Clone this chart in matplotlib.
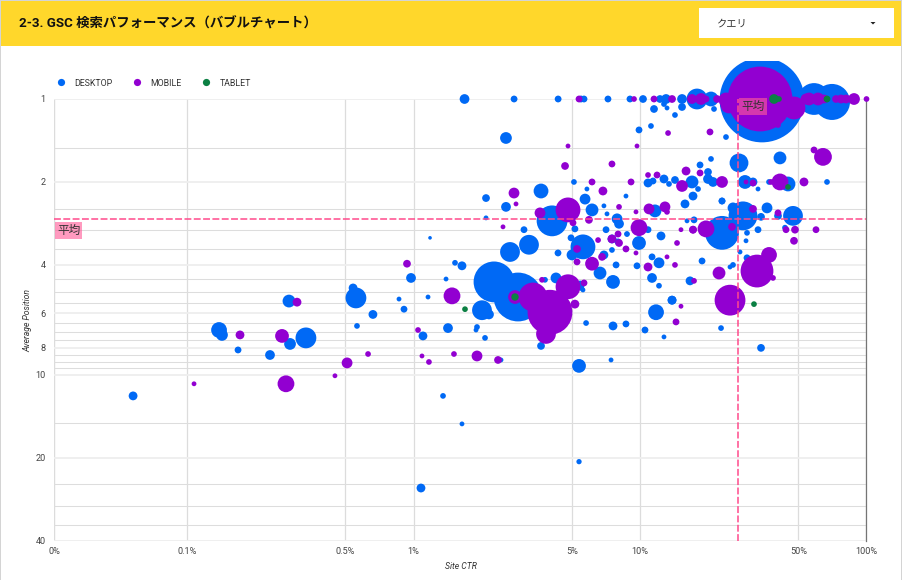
import numpy as np
import matplotlib
matplotlib.use("Agg")
import matplotlib.pyplot as plt
from matplotlib.lines import Line2D
from matplotlib.patches import Rectangle, Polygon
from matplotlib.ticker import FixedLocator, NullFormatter

plt.rcParams['font.family'] = ['Roboto', 'Noto Sans CJK JP', 'DejaVu Sans']

title = "2-3. GSC 検索パフォーマンス（バブルチャート）"
dropdown = "クエリ"
series_names = ["DESKTOP", "MOBILE", "TABLET"]
x_label = "Site CTR"
y_label = "Average Position"
x_ticks = [0.02587, 0.1, 0.5, 1, 5, 10, 50, 100]
x_tick_labels = ["0%", "0.1%", "0.5%", "1%", "5%", "10%", "50%", "100%"]
y_major = [1, 2, 4, 6, 8, 10, 20, 40]
y_minor = [1.5, 2.5, 3, 3.5, 4.5, 5, 5.5, 6.5, 7, 7.5, 8.5, 9, 9.5, 15, 25, 30, 35]
avg_ctr = 27.0
avg_pos = 2.736

# (CTR %, average position, impressions index)
desktop = [
    (1.68,1,20),(2.78,1,9),(4.35,1,9),(5.49,1,9),(5.66,1,9),(7.22,1,9),(9.03,1,9),(10.31,1,12),
    (12.25,1,12),(13.03,1,20),(15.33,1,20),(17.85,1,100),(20.58,1,49),(34.57,1.008,1764),
    (58.65,1,240),(70.42,1.025,310),
    (11.53,1.087,12),(12.76,1.043,6),(13.16,1.078,4),(14.27,1.143,6),(15.33,1.069,12),(21.22,1.087,6),
    (11.18,1.253,6),(9.90,1.295,9),(23.97,1.374,6),(2.56,1.385,30),
    (27.36,1.706,81),(41.5,1.636,36),(20.58,1.65,6),(18.41,1.735,9),(19.96,1.84,12),(19.96,1.951,20),
    (21.01,2.0,20),(16.97,2.0,36),(14.27,1.967,12),(13.43,2.034,6),(12.76,1.951,16),(11.41,1.984,9),
    (10.85,2.017,16),(18.04,2.121,6),(17.14,2.25,16),(15.8,2.403,16),(23.02,2.345,9),(29.08,2.0,42),
    (31.54,2.0,16),(33.19,2.121,4),(37.12,2.0,6),(45.02,2.034,49),(66.93,2.0,6),(5.11,2.0,6),
    (5.83,2.121,4),(8.67,2.25,4),
    (3.656,2.157,49),(2.09,2.288,12),(2.561,2.463,20),(5.72,2.308,25),(6.14,2.526,36),(6.93,2.442,4),
    (7.15,2.611,4),(7.92,2.722,25),(8.08,2.837,20),(5.16,2.96,9),(7.08,2.98,9),(11.65,2.547,36),
    (10.85,2.98,9),(12.38,3.14,16),(8.76,3.09,4),(16.13,2.768,4),(17.32,2.745,9),(4.09,2.768,225),
    (3.075,2.98,9),(2.09,2.7,4),
    (23.02,3.06,272),(28.49,2.655,196),(25.74,2.484,25),(36.37,2.484,25),(34.22,2.677,12),(33.19,2.98,9),
    (47.37,2.655,90),(40.67,2.655,12),(43.67,2.93,6),(29.68,3.06,6),(29.38,3.27,4),(23.02,2.345,9),
    (18.79,3.87,9),(27.64,3.59,4),(25.74,4.0,6),(24.97,4.07,4),(29.68,3.77,9),(16.63,4.57,16),
    (5.6,3.44,144),(4.96,3.19,9),(5.01,3.68,25),(6.93,3.68,16),(7.52,3.22,16),(8.0,3.3,9),
    (7.52,3.53,6),(8.76,3.09,6),(9.9,3.33,42),(11.3,3.74,9),(12.13,3.93,25),(9.7,4.03,9),
    (7.84,4.0,9),(11.3,4.46,20),(12.13,4.76,6),(13.85,5.37,16),(11.77,5.94,56),(6.66,4.28,36),
    (7.6,4.61,42),(5.44,4.69,9),(5.55,4.89,4),(5.49,4.76,9),(5.6,4.93,4),
    (4.257,4.46,25),(3.807,4.53,6),(3.235,3.38,90),(2.667,3.59,90),(4.345,3.62,9),
    (2.267,4.61,400),(2.894,5.23,576),(1.637,4.03,16),(1.525,3.93,6),(2.006,5.84,90),(2.154,6.05,20),
    (1.42,6.78,20),(1.907,6.72,6),(1.888,6.89,4),(2.069,7.36,6),(3.656,7.87,12),(5.38,9.3,42),
    (7.45,8.85,4),(2.434,8.85,4),(1.637,15.1,4),(5.38,20.7,5),(7.6,6.66,16),(5.78,6.5,6),
    (8.67,6.55,9),(10.52,6.89,9),(12.76,7.3,4),(13.85,5.37,16),(22.79,6.78,6),(34.22,8.0,12),
    (0.0578,11.95,16),(0.1385,6.89,56),(0.1427,7.18,30),(0.168,8.14,9),(0.2325,8.49,20),(0.282,5.41,36),
    (0.285,7.74,30),(0.335,7.36,100),(0.557,5.27,100),(0.541,4.85,16),(0.662,6.05,16),(0.563,6.66,6),
    (0.863,5.32,4),(0.908,5.79,9),(0.975,4.46,20),(1.159,5.23,4),(1.392,4.5,4),(1.101,7.24,16),
    (1.35,11.95,6),(1.079,25.8,16),(1.183,3.19,2),
]

mobile = [
    (5.38,1,9),(9.41,1,6),(11.53,1,9),(13.85,1,12),(16.97,1,20),(18.6,1,30),(19.56,1,9),(21.88,1,12),
    (33.87,1.0,1024),(47.85,1.078,121),(24.71,1.051,64),(23.97,1.008,49),(40.67,1.243,6),
    (54.06,1,25),(55.77,1,36),(61.08,1,36),(64.9,1,16),(73.34,1,12),(77.18,1,16),(81.2,1,16),
    (88.09,1,30),(100,1,6),
    (13.3,1.329,6),(20.37,1.317,9),(4.81,1.481,4),(9.7,1.481,4),(7.52,1.721,9),(4.667,1.75,12),
    (64.25,1.622,72),(58.65,1.531,9),(41.5,2.0,64),(52.97,2.0,16),(29.38,2.0,4),(31.54,2.017,9),
    (37.88,2.0,6),(23.02,2.0,30),(15.33,2.068,30),(15.97,1.825,16),(18.41,1.855,9),(11.89,1.887,9),
    (10.85,1.887,6),(9.13,2.0,9),(6.14,2.0,9),(6.86,2.157,16),(2.778,2.194,25),(2.835,2.403,4),
    (4.81,2.526,144),(3.618,2.59,25),(5.95,2.745,12),(5.06,2.813,9),(2.484,2.91,4),(8.08,2.463,6),
    (9.6,2.568,4),(10.96,2.505,25),(12.89,2.463,25),(13.16,2.568,6),(9.9,2.93,64),(15.17,2.98,4),
    (17.14,2.98,12),(19.56,2.96,64),(25.48,2.91,12),(31.54,2.505,12),(40.67,2.59,9),
    (17.14,2.98,12),(44.12,2.98,9),(48.34,2.98,12),(59.84,2.98,9),(47.85,3.27,12),
    (37.12,3.68,56),(32.85,4.21,256),(38.66,4.46,6),(22.33,4.28,36),(24.97,5.37,225),(17.32,4.57,6),
    (5.27,3.5,12),(5.27,3.9,9),(6.8,3.74,12),(6.53,3.25,6),(7.52,3.22,16),(8.0,3.09,9),(8.08,3.33,12),
    (8.67,3.5,9),(9.6,3.62,4),(14.57,3.33,6),(13.16,3.74,4),(14.27,4.0,6),(10.85,4.07,16),(6.14,3.96,42),
    (5.66,4.65,9),(4.81,4.8,144),(5.16,5.55,16),(3.37,5.23,196),(4.005,5.94,484),(3.846,7.12,90),
    (2.806,5.23,42),(3.693,4.53,6),(1.479,5.18,64),(1.509,8.42,6),(1.907,8.56,25),(2.361,8.85,12),
    (15.17,5.65,4),(14.42,6.44,9),
    (0.1074,10.8,4),(0.1714,7.18,16),(0.2627,7.24,42),(0.306,5.46,16),(0.2735,10.8,64),(0.45,10.1,4),
    (0.509,9.07,25),(0.63,8.42,6),(0.936,3.96,12),(1.047,6.89,6),(1.09,8.56,4),(1.17,9.0,6),
]

tablet = [
    (39.05,1,20),(41.08,1,6),(66.93,1,9),(45.02,2.085,6),(31.86,5.55,6),(1.688,5.79,6),(2.806,5.23,11),
]


def unzip(rows):
    a = np.array(rows, dtype=float)
    return a[:, 0], a[:, 1], a[:, 2]


fig = plt.figure(figsize=(9.02, 5.80), dpi=100, facecolor="white")
W, H = 902, 580
ax = fig.add_axes([54/W, (H-540.5)/H, (866.5-54)/W, (540.5-99)/H], zorder=2)
ax.patch.set_alpha(0)

# page furniture
fig.patches.append(Rectangle((1/W, (H-46)/H), 900/W, 45/H, transform=fig.transFigure, facecolor="#ffd72b", edgecolor="none", zorder=0))
fig.patches.append(Rectangle((699/W, (H-38)/H), 195/W, 30/H, transform=fig.transFigure, facecolor="white", edgecolor="none", zorder=1))
fig.patches.append(Polygon([(870.5/W, (H-22)/H), (875.5/W, (H-22)/H), (873/W, (H-24.5)/H)], transform=fig.transFigure, facecolor="#222222", edgecolor="none", zorder=1))
for r in [(0, 0, 1, H), (901, 0, 1, H), (0, H-1, W, 1)]:
    fig.patches.append(Rectangle((r[0]/W, r[1]/H), r[2]/W, r[3]/H, transform=fig.transFigure, facecolor="#d4d4d4", edgecolor="none", zorder=1))

fig.text(19/W, 1-24.3/H, title, fontsize=9.65, fontweight="bold", color="#111111", va="center", ha="left", zorder=3)
fig.text(716.5/W, 1-23.3/H, dropdown, fontsize=7.4, color="#333333", va="center", ha="left", zorder=3)

ax.set_xscale("log")
ax.set_yscale("log")
ax.set_xlim(x_ticks[0], 100)
ax.set_ylim(40, 1)

ax.xaxis.set_major_locator(FixedLocator(x_ticks))
ax.xaxis.set_minor_locator(FixedLocator([]))
ax.set_xticklabels(x_tick_labels)
ax.xaxis.set_minor_formatter(NullFormatter())
ax.yaxis.set_major_locator(FixedLocator(y_major))
ax.set_yticklabels([str(v) for v in y_major])
ax.yaxis.set_minor_locator(FixedLocator(y_minor))
ax.yaxis.set_minor_formatter(NullFormatter())
ax.tick_params(axis="both", which="both", length=0, labelsize=6.6, labelcolor="#444444")
ax.tick_params(axis="x", pad=5)
ax.tick_params(axis="y", pad=6)
ax.grid(True, axis="x", which="major", color="#dcdcdc", lw=0.9, zorder=0)
ax.grid(True, axis="y", which="major", color="#eeeeee", lw=1.3, zorder=0)
ax.grid(True, axis="y", which="minor", color="#dddddd", lw=0.75, zorder=0)
ax.set_axisbelow(True)
for s in ["top", "bottom", "left"]:
    ax.spines[s].set_visible(False)
ax.spines["right"].set_color("#757575")
ax.spines["right"].set_linewidth(0.9)
ax.axvline(x_ticks[0], color="#e2e2e2", lw=0.9, zorder=0)

colors = ["#0069f5", "#9200d1", "#0b8043"]
clip = Rectangle((0, 0), 1, (H-61)/H, transform=fig.transFigure)
PT = 2.0736  # area per impression index
for rows, col, z in zip([desktop, mobile, tablet], colors, [3, 4, 5]):
    cx, cy, cs = unzip(rows)
    coll = ax.scatter(cx, cy, s=(np.sqrt(cs)+0.4)**2*PT, c=col, linewidths=0, zorder=z, clip_on=True)
    coll.set_clip_path(clip)

# average reference lines and labels
pink = "#ff4a8c"
ax.axhline(avg_pos, color=pink, lw=1.1, dashes=(4.5, 1.6), zorder=7)
ax.axvline(avg_ctr, color=pink, lw=1.1, dashes=(4.5, 1.6), zorder=7)
bbox = dict(boxstyle="square,pad=0.17", facecolor="#ff5c99", alpha=0.62, edgecolor="none")
ax.annotate("平均", xy=(0, avg_pos), xycoords=("axes fraction", "data"), xytext=(2.2, -8), textcoords="offset points",
            fontsize=8.4, color="#333333", va="center", ha="left", bbox=bbox, zorder=8, annotation_clip=False)
ax.annotate("平均", xy=(avg_ctr, 1), xycoords="data", xytext=(2.6, -5.3), textcoords="offset points",
            fontsize=8.4, color="#333333", va="center", ha="left", bbox=bbox, zorder=8, annotation_clip=False)

fig.text(461/W, 1-566.5/H, x_label, fontsize=6.2, style="italic", color="#333333", ha="center", va="center")
fig.text(27.5/W, 1-320/H, y_label, fontsize=6.2, style="italic", color="#333333", rotation=90, ha="center", va="center")

handles = [Line2D([], [], ls="", marker="o", ms=5.2, mfc=c, mec="none") for c in colors]
fig.legend(handles, series_names, loc="center left", bbox_to_anchor=(57/W, 1-83/H), ncol=3, frameon=False,
           fontsize=6.3, labelcolor="#333333", handlelength=1, handletextpad=1.0, columnspacing=2.3,
           borderpad=0, borderaxespad=0)

fig.savefig("out.png", dpi=100, facecolor="white")
